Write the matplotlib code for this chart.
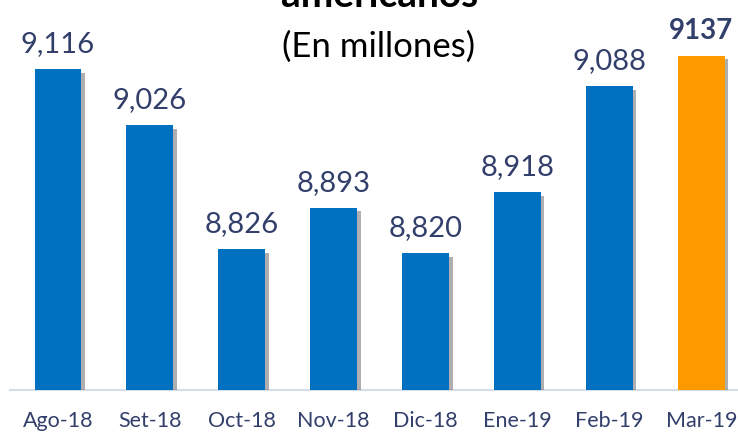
import matplotlib
matplotlib.use("Agg")
import matplotlib.pyplot as plt
import matplotlib.patheffects as pe

categories = ["Ago-18", "Set-18", "Oct-18", "Nov-18", "Dic-18", "Ene-19", "Feb-19", "Mar-19"]
values = [9116, 9026, 8826, 8893, 8820, 8918, 9088, 9137]
labels = ["9,116", "9,026", "8,826", "8,893", "8,820", "8,918", "9,088", "9137"]
colors = ["#0070C0"] * 7 + ["#FF9900"]

W, H = 738, 434
fig = plt.figure(figsize=(W / 100, H / 100), dpi=100)
ax = fig.add_axes([0, 44 / H, 1, 1 - 44 / H])
ymin = 8600
ppu = 0.622
ax.set_ylim(ymin, ymin + 390 / ppu)
ax.set_xlim(-58 / 91.9, (W - 58) / 91.9)
for s in ax.spines.values():
    s.set_visible(False)
ax.set_yticks([])
ax.set_xticks([])

x = list(range(len(categories)))
bars = ax.bar(x, [v - ymin for v in values], bottom=ymin, width=0.51, color=colors, zorder=3)
for b in bars:
    b.set_path_effects([pe.SimplePatchShadow(offset=(2.5, -2.5), shadow_rgbFace="#606060", alpha=0.5), pe.Normal()])

ax.plot([-0.52, 8], [ymin, ymin], color="#D6DCE8", lw=1.5, zorder=2, clip_on=False)

txtc = "#333F6B"
for i, (v, l) in enumerate(zip(values, labels)):
    bold = i == len(values) - 1
    ax.annotate(l, (i, v), xytext=(0, 17), textcoords="offset pixels", ha="center", va="baseline",
                fontsize=21 if not bold else 20, fontweight="bold" if bold else "normal",
                color=txtc, family="Lato")

for i, c in enumerate(categories):
    ax.annotate(c, (i, ymin), xytext=(0, -37), textcoords="offset pixels", ha="center", va="baseline",
                fontsize=15.5, color=txtc, family="Lato", annotation_clip=False)

fig.text(380 / W, 1 - 7 / H, "americanos", ha="center", va="baseline", fontsize=28,
         fontweight="bold", color="black", family="Lato")
fig.text(379 / W, 1 - 57 / H, "(En millones)", ha="center", va="baseline", fontsize=25,
         color="black", family="Lato")

fig.savefig("out.png", dpi=100)
